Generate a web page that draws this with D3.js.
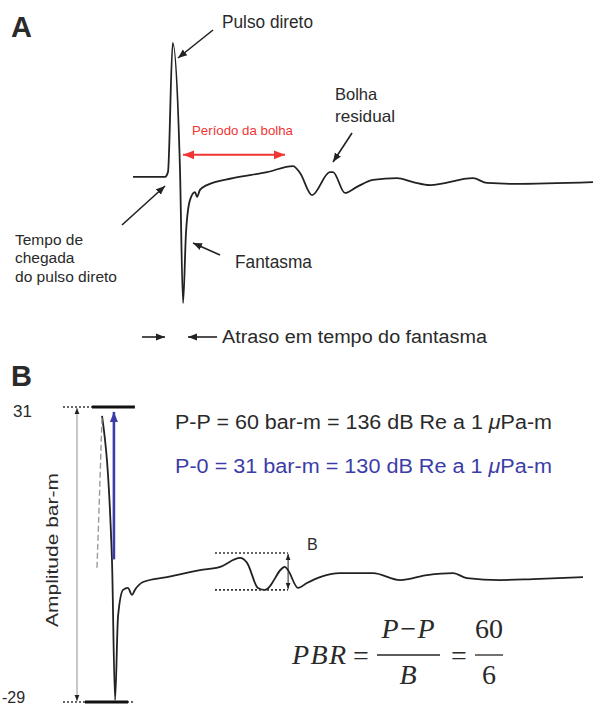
<!DOCTYPE html>
<html>
<head>
<meta charset="utf-8">
<script src="https://cdn.jsdelivr.net/npm/d3@7"></script>
<style>
body { margin: 0; background: #fff; }
svg text { font-family: "Liberation Sans", Arial, sans-serif; fill: #2a2a2a; }
.serif { font-family: "Liberation Serif", "Times New Roman", serif; }
</style>
</head>
<body>
<svg id="fig"></svg>
<script>
// signature, panel A (time in ms, amplitude in bar-m)
var timeA = [0, 17.4, 19, 21.6, 25.5, 27.2, 28.8, 31, 33.7, 34.8, 36.4, 40.2, 54.3, 72.8, 87, 90.8,
             97.3, 107, 108.7, 115.2, 121.7, 130.4, 143.5, 152.2, 161.4, 184.8, 192.4, 206.5, 250];
var ampA  = [0.1, 0.1, 1.2, 31, 2.4, -29, -12.8, -5.2, -3.4, -4.5, -2.9, -1.8, -0.2, 1.2, 2.6, 1.0,
             -4.1, 1.2, 1.2, -3.6, -2.2, -0.6, -0.2, -1.1, -1.8, -0.2, -1.3, -1.5, -1.1];

// signature, panel B
var timeB = [2.6, 7.7, 9.3, 10.8, 13.4, 15.9, 18, 19.5, 23.7, 36, 53, 63.3, 73.6, 77.2, 82.8, 86.4,
             96.7, 98.3, 103.4, 108, 114.7, 125, 142, 155.9, 169.8, 183.1, 190.3, 207.3, 224.3, 250];
var ampB  = [29.2, -0.1, -28.6, -11.7, -6.2, -5.8, -7.2, -6.2, -4.6, -3.6, -2.2, -1.5, 0.3, -0.7, -5.8, -6.2,
             -1.5, -2.2, -5.8, -4.8, -3.6, -2.8, -2.8, -4.2, -3.2, -2.8, -3.8, -4.2, -4.0, -3.6];
var ghostTimeB = [0, 1.2, 2.6];
var ghostAmpB  = [-1.7, 12, 29.2];

var peakB = 31, troughB = -29;
var bubbleTop = 1.3, bubbleBottom = -6.2;
var bubbleStart = 60.7, bubbleEnd = 98.3;
var periodStart = 27.2, periodEnd = 82.6, periodLevel = 5.2;
var yTicksB = ["31", "-29"];

var W = 594, H = 708;
var svg = d3.select("#fig").attr("width", W).attr("height", H);

var defs = svg.append("defs");
function marker(id, color, size) {
    defs.append("marker")
        .attr("id", id)
        .attr("viewBox", "0 0 10 10")
        .attr("refX", 10).attr("refY", 5)
        .attr("markerWidth", size).attr("markerHeight", size)
        .attr("markerUnits", "userSpaceOnUse")
        .attr("orient", "auto-start-reverse")
        .append("path")
        .attr("d", "M0,1 L10,5 L0,9 z")
        .attr("fill", color);
}
marker("ah", "#222", 9);
marker("ahs", "#222", 6);
marker("ahr", "#f03535", 11);
marker("ahb", "#3c3ca8", 10);

function arrow(x1, y1, x2, y2, m, color, w) {
    return svg.append("line")
        .attr("x1", x1).attr("y1", y1).attr("x2", x2).attr("y2", y2)
        .attr("stroke", color || "#222")
        .attr("stroke-width", w || 1.6)
        .attr("marker-end", "url(#" + (m || "ah") + ")");
}

function label(txt, x, y, size, opts) {
    var t = svg.append("text").text(txt)
        .attr("x", x).attr("y", y)
        .style("font-size", size + "px");
    if (opts && opts.len) t.attr("textLength", opts.len).attr("lengthAdjust", "spacingAndGlyphs");
    if (opts && opts.fill) t.style("fill", opts.fill);
    if (opts && opts.bold) t.style("font-weight", "bold");
    return t;
}

// ---------- panel A ----------
var xA = d3.scaleLinear().domain([0, 250]).range([133, 593]);
var yA = d3.scaleLinear().domain([-29, 31]).range([303, 43]);

var lineA = d3.line()
    .x(function(d, i) { return xA(timeA[i]); })
    .y(function(d, i) { return yA(ampA[i]); })
    .curve(d3.curveMonotoneX);

svg.append("path")
    .attr("d", lineA(timeA))
    .attr("fill", "none")
    .attr("stroke", "#222")
    .attr("stroke-width", 1.8)
    .attr("stroke-linejoin", "round");

label("A", 11, 37, 29, {bold: true});

// período da bolha
svg.append("line")
    .attr("x1", xA(periodStart)).attr("y1", yA(periodLevel))
    .attr("x2", xA(periodEnd)).attr("y2", yA(periodLevel))
    .attr("stroke", "#f03535").attr("stroke-width", 2)
    .attr("marker-start", "url(#ahr)")
    .attr("marker-end", "url(#ahr)");
label("Período da bolha", 192, 135, 13.4, {fill: "#f03535", len: 101});

label("Pulso direto", 222, 28, 18, {len: 91});
arrow(213, 30, 178, 58);

label("Bolha", 335, 100, 16.5);
label("residual", 335, 122, 16.5, {len: 60});
arrow(352, 133, 333, 162);

label("Tempo de", 15, 245, 15.5);
label("chegada", 15, 263, 15.5);
label("do pulso direto", 15, 282, 15.5, {len: 102});
arrow(122, 225, 165, 186);

label("Fantasma", 235, 268, 17.5, {len: 77});
arrow(220, 255, 193, 243);

arrow(142, 337, 165, 337, "ah", "#222", 1.6);
arrow(217, 337, 188, 337, "ah", "#222", 1.6);
label("Atraso em tempo do fantasma", 222, 343, 18, {len: 265});

// ---------- panel B ----------
var xB = d3.scaleLinear().domain([0, 250]).range([97, 583]);
var yB = d3.scaleLinear().domain([troughB, peakB]).range([702, 407]);

label("B", 11, 386, 29, {bold: true});

var lineB = d3.line()
    .x(function(d, i) { return xB(timeB[i]); })
    .y(function(d, i) { return yB(ampB[i]); })
    .curve(d3.curveMonotoneX);

svg.append("path")
    .attr("d", lineB(timeB))
    .attr("fill", "none")
    .attr("stroke", "#222")
    .attr("stroke-width", 1.8)
    .attr("stroke-linejoin", "round");

var ghost = d3.line()
    .x(function(d, i) { return xB(ghostTimeB[i]); })
    .y(function(d, i) { return yB(ghostAmpB[i]); });
svg.append("path")
    .attr("d", ghost(ghostTimeB))
    .attr("fill", "none")
    .attr("stroke", "#9a9a9a")
    .attr("stroke-width", 1.4)
    .attr("stroke-dasharray", "6,3");

// peak / trough bars and dotted guides
svg.append("line")
    .attr("x1", xB(-17.5)).attr("x2", xB(-2.6))
    .attr("y1", yB(peakB)).attr("y2", yB(peakB))
    .attr("stroke", "#333").attr("stroke-width", 1.6).attr("stroke-dasharray", "2,2");
svg.append("line")
    .attr("x1", xB(-2.6)).attr("x2", xB(19.5))
    .attr("y1", yB(peakB)).attr("y2", yB(peakB))
    .attr("stroke", "#111").attr("stroke-width", 3);
svg.append("line")
    .attr("x1", xB(-17.5)).attr("x2", xB(19.5))
    .attr("y1", yB(troughB)).attr("y2", yB(troughB))
    .attr("stroke", "#333").attr("stroke-width", 1.6).attr("stroke-dasharray", "2,2");
svg.append("line")
    .attr("x1", xB(-6.2)).attr("x2", xB(16))
    .attr("y1", yB(troughB)).attr("y2", yB(troughB))
    .attr("stroke", "#111").attr("stroke-width", 3);

// amplitude range arrow
svg.append("line")
    .attr("x1", xB(-10.3)).attr("x2", xB(-10.3))
    .attr("y1", yB(troughB) - 1).attr("y2", yB(peakB) + 1)
    .attr("stroke", "#aaa").attr("stroke-width", 1.3)
    .attr("marker-start", "url(#ahs)")
    .attr("marker-end", "url(#ahs)");

// P-0 arrow
svg.append("line")
    .attr("x1", xB(8.7)).attr("x2", xB(8.7))
    .attr("y1", yB(0)).attr("y2", yB(peakB - 1))
    .attr("stroke", "#3c3ca8").attr("stroke-width", 2.6)
    .attr("marker-end", "url(#ahb)");

label(yTicksB[0], 13, 417, 17);
label(yTicksB[1], 2, 703, 16);

svg.append("text")
    .text("Amplitude  bar-m")
    .attr("transform", "translate(58,550) rotate(-90)")
    .attr("text-anchor", "middle")
    .attr("textLength", 154)
    .attr("lengthAdjust", "spacingAndGlyphs")
    .style("font-size", "17px");

function energy(lead, color) {
    var t = label(lead, 175, color ? 473 : 429, 20, {len: 377, fill: color});
    t.text(null);
    t.append("tspan").text(lead);
    t.append("tspan").text("\u03bc").style("font-style", "italic");
    t.append("tspan").text("Pa-m");
    return t;
}
energy("P-P = 60 bar-m = 136 dB Re a 1 ");
energy("P-0 = 31 bar-m = 130 dB Re a 1 ", "#3c3ca8");

// bubble amplitude B
[bubbleTop, bubbleBottom].forEach(function(v) {
    svg.append("line")
        .attr("x1", xB(bubbleStart)).attr("x2", xB(bubbleEnd))
        .attr("y1", yB(v)).attr("y2", yB(v))
        .attr("stroke", "#333").attr("stroke-width", 1.6).attr("stroke-dasharray", "2,2");
});
var bMid = (bubbleTop + bubbleBottom) / 2;
arrow(xB(bubbleEnd), yB(bMid), xB(bubbleEnd), yB(bubbleTop) + 1, "ahs", "#222", 1);
arrow(xB(bubbleEnd), yB(bMid), xB(bubbleEnd), yB(bubbleBottom) - 1, "ahs", "#222", 1);
label("B", 307, 550, 16);

// PBR formula
var f = svg.append("g").attr("class", "formula");
function ftxt(txt, x, y, size, italic) {
    return f.append("text").text(txt)
        .attr("class", "serif")
        .attr("x", x).attr("y", y)
        .attr("text-anchor", "middle")
        .style("font-size", size + "px")
        .style("font-style", italic ? "italic" : "normal");
}
ftxt("PBR", 319, 664, 28, true).attr("textLength", 54);
ftxt("=", 361, 665, 28, false);
ftxt("P\u2212P", 408, 638, 28, true);
ftxt("B", 408, 684, 28, true);
ftxt("=", 459, 665, 28, false);
ftxt("60", 489, 638, 28, false);
ftxt("6", 489, 684, 28, false);
f.append("line").attr("x1", 377).attr("x2", 440).attr("y1", 655).attr("y2", 655)
    .attr("stroke", "#262626").attr("stroke-width", 1.3);
f.append("line").attr("x1", 475).attr("x2", 503).attr("y1", 655).attr("y2", 655)
    .attr("stroke", "#262626").attr("stroke-width", 1.3);
</script>
</body>
</html>
